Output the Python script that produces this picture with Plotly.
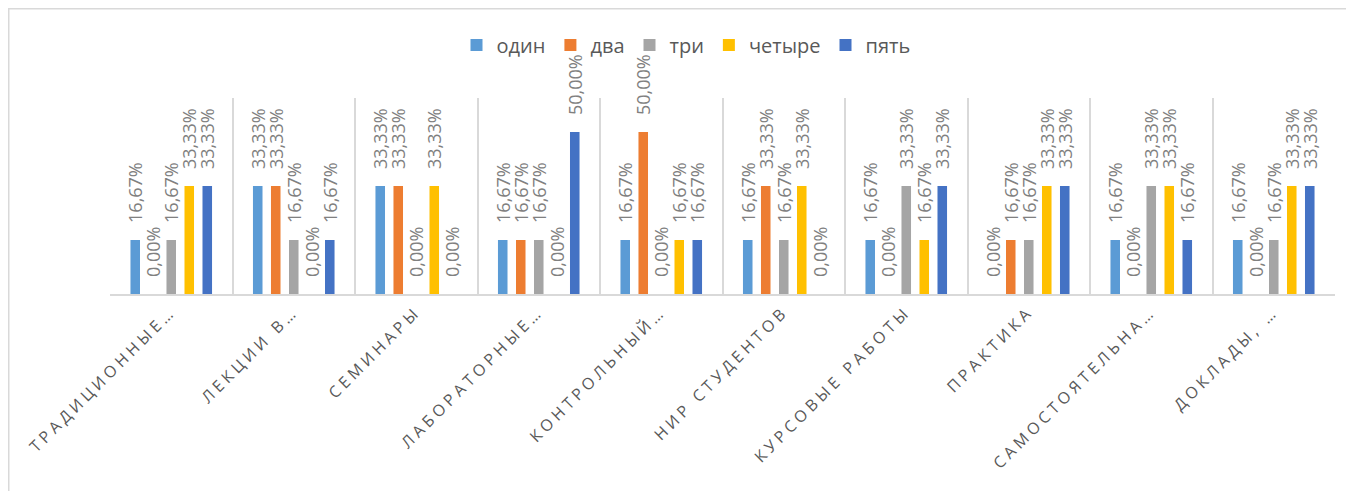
import plotly.graph_objects as go

categories = ["ТРАДИЦИОННЫЕ…", "ЛЕКЦИИ В…", "СЕМИНАРЫ", "ЛАБОРАТОРНЫЕ…", "КОНТРОЛЬНЫЙ…",
              "НИР СТУДЕНТОВ", "КУРСОВЫЕ РАБОТЫ", "ПРАКТИКА", "САМОСТОЯТЕЛЬНА…", "ДОКЛАДЫ, …"]

odin = [16.67, 33.33, 33.33, 16.67, 16.67, 16.67, 16.67, 0.00, 16.67, 16.67]
dva = [0.00, 33.33, 33.33, 16.67, 50.00, 33.33, 0.00, 16.67, 0.00, 0.00]
tri = [16.67, 16.67, 0.00, 16.67, 0.00, 16.67, 33.33, 16.67, 33.33, 16.67]
chetyre = [33.33, 0.00, 33.33, 0.00, 16.67, 33.33, 16.67, 33.33, 33.33, 33.33]
pyat = [33.33, 16.67, 0.00, 50.00, 16.67, 0.00, 33.33, 33.33, 16.67, 33.33]

series = [("один", odin, "#5B9BD5"), ("два", dva, "#ED7D31"), ("три", tri, "#A5A5A5"),
          ("четыре", chetyre, "#FFC000"), ("пять", pyat, "#4472C4")]

# page body has an 8px margin, so the figure is offset by 8px
OFF = 8
W, H = 1354 - 2 * OFF, 499 - 2 * OFF
L = 110 - OFF
R = W - (1335 - OFF)
T = 98 - OFF
B = H - (294 - OFF)

FONT = "Open Sans, Liberation Sans, sans-serif"


def fmt(v):
    # padding so the label sits a bit above the bar, like Excel
    return "\u00a0\u00a0\u00a0" + f"{v:.2f}%".replace(".", ",")


fig = go.Figure()
for name, vals, color in series:
    fig.add_trace(go.Bar(
        x=categories, y=vals, name=name,
        marker=dict(color=color, line=dict(width=0)),
        text=[fmt(v) for v in vals],
        textposition="outside", textangle=-90, constraintext="none",
        cliponaxis=False,
        textfont=dict(family=FONT, size=18, color="#808080"),
    ))

pw, ph = W - L - R, H - T - B


def px_x(p):
    return (p - OFF - L) / pw


def px_y(p):
    return (H - B - (p - OFF)) / ph


fig.update_layout(
    width=W, height=H,
    margin=dict(l=L, r=R, t=T, b=B, autoexpand=False),
    paper_bgcolor="white", plot_bgcolor="white",
    barmode="group", bargap=0.265, bargroupgap=0.47,
    font=dict(family=FONT, color="#595959"),
    legend=dict(orientation="h", x=px_x(686), y=px_y(45), xanchor="center", yanchor="middle",
                bgcolor="rgba(0,0,0,0)",
                font=dict(size=20, color="#595959"), itemwidth=30, tracegroupgap=0),
    xaxis=dict(type="category", tickson="boundaries", showgrid=True, gridcolor="#D9D9D9", gridwidth=1.5,
               showline=True, linecolor="#D9D9D9", linewidth=2, ticks="", tickangle=-45,
               tickfont=dict(size=16, color="#595959"), ticklabelshift=0),
    yaxis=dict(range=[0, 60.5], visible=False, showgrid=False),
    showlegend=True,
    shapes=[dict(type="rect", xref="paper", yref="paper",
                 x0=px_x(8.75), x1=px_x(1400), y0=px_y(8.75), y1=px_y(560),
                 line=dict(color="#D9D9D9", width=1.5), layer="below")],
)

spacing_js = """
function spaceTicks(){
  document.querySelectorAll('.xtick text').forEach(function(t){ t.style.letterSpacing = '4px'; });
}
spaceTicks();
var gd = document.getElementById('{plot_id}');
gd.on('plotly_afterplot', spaceTicks);
"""

fig.write_html("out.html", post_script=spacing_js)
